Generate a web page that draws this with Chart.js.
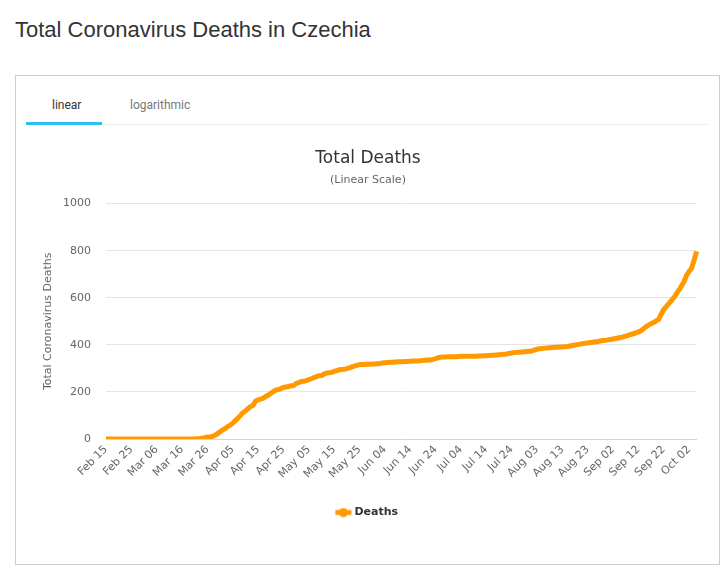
<!DOCTYPE html>
<html>
<head>
<meta charset="utf-8">
<script src="https://cdn.jsdelivr.net/npm/chart.js@4"></script>
<style>
    body { margin: 0; background: #fff; font-family: "Liberation Sans", Arial, sans-serif; }
    h1 { position: absolute; left: 15px; top: 17px; margin: 0; font-size: 22px; font-weight: normal; color: #333; }
    .box { position: absolute; left: 15px; top: 75px; width: 703px; height: 488px; border: 1px solid #ccc; }
    .tabs { position: absolute; left: 10px; top: 0; width: 682px; height: 48px; border-bottom: 1px solid #eee; }
    .tab { position: absolute; top: 22px; font-size: 12px; color: #777; font-family: Roboto, "Liberation Sans", sans-serif; }
    .tab.active { color: #333; }
    .bar { position: absolute; left: 0; top: 46px; width: 76px; height: 3px; background: #2bc0ef; }
    .wrap { position: absolute; left: 10px; top: 58px; width: 684px; height: 398px; }
</style>
</head>
<body>
<h1>Total Coronavirus Deaths in Czechia</h1>
<div class="box">
    <div class="tabs">
        <span class="tab active" style="left:26px">linear</span>
        <span class="tab" style="left:104px">logarithmic</span>
        <div class="bar"></div>
    </div>
    <div class="wrap"><canvas id="deathsChart"></canvas></div>
</div>
<script>
// --- data (Feb 15 .. Oct 05) ---
const startDate = new Date(2020, 1, 15);
const monthNames = ['Jan', 'Feb', 'Mar', 'Apr', 'May', 'Jun', 'Jul', 'Aug', 'Sep', 'Oct', 'Nov', 'Dec'];

const febMar = [0, 0, 0, 0, 0, 0, 0, 0, 0, 0, 0, 0, 0, 0, 0,
    0, 0, 0, 0, 0, 0, 0, 0, 0, 0, 0, 0, 0, 0, 0, 0, 0, 0, 0, 0, 0,
    1, 1, 3, 6, 9, 9, 11, 16, 23, 31];
const apr = [39, 44, 53, 59, 67, 78, 88, 99, 112, 119, 129, 138, 143, 161, 166,
    169, 173, 181, 186, 194, 201, 208, 210, 214, 219, 221, 223, 226, 227, 236];
const may = [239, 244, 245, 248, 252, 256, 261, 265, 269, 270, 276, 280, 281, 283, 287, 290,
    294, 295, 296, 299, 302, 306, 310, 313, 316, 317, 317, 318, 318, 319, 319];
const jun = [320, 321, 323, 324, 325, 326, 326, 327, 328, 328, 328, 329, 329, 330, 331,
    331, 331, 332, 334, 335, 336, 336, 338, 341, 345, 347, 348, 348, 349, 349];
const jul = [349, 349, 350, 351, 351, 351, 351, 352, 352, 352, 353, 353, 354, 354, 355, 356,
    356, 357, 358, 359, 360, 361, 363, 365, 367, 368, 369, 370, 371, 372, 373];
const aug = [374, 378, 381, 383, 384, 386, 387, 388, 389, 390, 390, 391, 391, 392, 393, 395,
    397, 399, 401, 403, 405, 407, 408, 410, 411, 413, 414, 416, 418, 419, 421];
const sep = [423, 425, 427, 429, 431, 434, 437, 440, 444, 447, 451, 455, 460, 468, 477,
    484, 490, 495, 502, 508, 530, 550, 562, 575, 588, 600, 617, 632, 650, 668];
const oct = [695, 712, 725, 760, 797];

const deaths = [].concat(febMar, apr, may, jun, jul, aug, sep, oct);
const yTicks = [0, 200, 400, 600, 800, 1000];

const labels = deaths.map(function(v, i) {
    const d = new Date(startDate.getTime());
    d.setDate(d.getDate() + i);
    return monthNames[d.getMonth()] + ' ' + String(d.getDate()).padStart(2, '0');
});

const fontFam = '"DejaVu Sans", Verdana, sans-serif';
const tickFont = { family: fontFam, size: 11 };

// legend marker: short thick line with a dot (like the original)
const marker = document.createElement('canvas');
marker.width = 18;
marker.height = 10;
const mctx = marker.getContext('2d');
mctx.strokeStyle = '#FF9900';
mctx.lineWidth = 5;
mctx.beginPath(); mctx.moveTo(1, 5); mctx.lineTo(17, 5); mctx.stroke();
mctx.fillStyle = '#FF9900';
mctx.beginPath(); mctx.arc(9, 5, 4.5, 0, Math.PI * 2); mctx.fill();

new Chart(document.getElementById('deathsChart'), {
    type: 'line',
    data: {
        labels: labels,
        datasets: [{
            label: 'Deaths',
            data: deaths,
            borderColor: '#FF9900',
            backgroundColor: '#FF9900',
            borderWidth: 5,
            pointRadius: 0,
            pointStyle: marker,
            tension: 0,
            fill: false
        }]
    },
    options: {
        responsive: true,
        maintainAspectRatio: false,
        animation: false,
        layout: { padding: { left: 12, right: 12, top: 2, bottom: 4 } },
        plugins: {
            title: {
                display: true,
                text: 'Total Deaths',
                color: '#333',
                font: { family: fontFam, size: 17, weight: 'normal' },
                padding: { top: 12, bottom: 5 }
            },
            subtitle: {
                display: true,
                text: '(Linear Scale)',
                color: '#666',
                font: { family: fontFam, size: 11 },
                padding: { bottom: 17 }
            },
            legend: {
                position: 'bottom',
                labels: {
                    color: '#333',
                    usePointStyle: true,
                    font: { family: fontFam, size: 11, weight: 'bold' },
                    padding: 12
                }
            },
            tooltip: { enabled: false }
        },
        scales: {
            x: {
                grid: { display: false, drawTicks: false },
                border: { color: '#ccd6eb' },
                afterFit: function(axis) { axis.height = 56; },
                ticks: {
                    autoSkip: false,
                    maxRotation: 45,
                    minRotation: 45,
                    color: '#666',
                    font: tickFont,
                    padding: 4,
                    callback: function(val, i) { return i % 10 === 0 ? labels[i] : ''; }
                }
            },
            y: {
                min: 0,
                max: 1000,
                afterBuildTicks: function(axis) { axis.ticks = yTicks.map(function(v) { return { value: v }; }); },
                afterFit: function(axis) { axis.width = 68; },
                grid: { color: '#e6e6e6', drawTicks: false },
                border: { display: false },
                ticks: {
                    color: '#666',
                    font: tickFont,
                    padding: 15,
                    callback: function(v) { return String(v); }
                },
                title: {
                    display: true,
                    text: 'Total Coronavirus Deaths',
                    color: '#666',
                    font: { family: fontFam, size: 11 }
                }
            }
        }
    }
});
</script>
</body>
</html>
